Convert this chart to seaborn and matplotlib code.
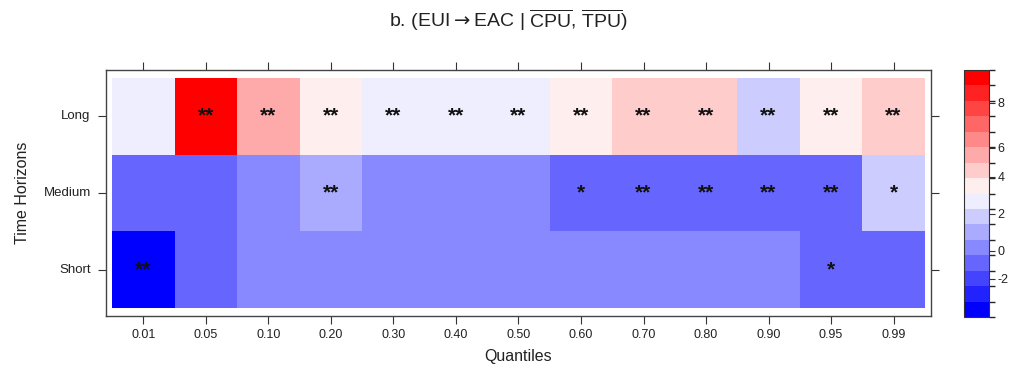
import numpy as np
import pandas as pd
import seaborn as sns
import matplotlib.pyplot as plt
from matplotlib.colors import LinearSegmentedColormap, ListedColormap, BoundaryNorm

# Daten
quantiles = ["0.01", "0.05", "0.10", "0.20", "0.30", "0.40", "0.50",
             "0.60", "0.70", "0.80", "0.90", "0.95", "0.99"]
horizons = ["Long", "Medium", "Short"]

long_vals = [2.7, 9.0, 5.5, 3.5, 2.7, 2.7, 2.7, 3.5, 4.4, 4.4, 1.8, 3.5, 4.4]
medium_vals = [-0.8, -0.8, 0.2, 1.0, 0.2, 0.2, 0.2, -0.8, -0.8, -0.8, -0.8, -0.8, 1.8]
short_vals = [-4.3, -0.8, 0.2, 0.2, 0.2, 0.2, 0.2, 0.2, 0.2, 0.2, 0.2, -0.8, -0.8]

long_sig = ["", "**", "**", "**", "**", "**", "**", "**", "**", "**", "**", "**", "**"]
medium_sig = ["", "", "", "**", "", "", "", "*", "**", "**", "**", "**", "*"]
short_sig = ["**", "", "", "", "", "", "", "", "", "", "", "*", ""]

# Farbstufen (ungleichmaessig wie im Original-Colorkey)
levels = [-4.9, -3.72, -2.57, -1.41, -0.25, 0.63, 1.43, 2.25, 3.09,
          3.91, 5.0, 6.05, 6.72, 7.4, 8.07, 8.74, 9.41]

values = pd.DataFrame([long_vals, medium_vals, short_vals], index=horizons, columns=quantiles)
sig = np.array([long_sig, medium_sig, short_sig])

sns.set_theme(style="white")
plt.rcParams['font.family'] = ['Liberation Sans', 'DejaVu Sans']
plt.rcParams['mathtext.fontset'] = 'custom'
plt.rcParams['mathtext.rm'] = 'Liberation Sans'
plt.rcParams['mathtext.sf'] = 'DejaVu Sans'
plt.rcParams['mathtext.fallback'] = 'stixsans'
plt.rcParams['axes.unicode_minus'] = False

ramp = LinearSegmentedColormap.from_list("bwr_ramp", ["blue", "white", "red"])
cmap = ListedColormap(ramp(np.linspace(0, 1, 16)))
norm = BoundaryNorm(levels, cmap.N)

fig = plt.figure(figsize=(10.11, 3.66), dpi=100)
ax = fig.add_axes([0.1048, 0.1366, 0.8161, 0.6721])
cax = fig.add_axes([0.9535, 0.1339, 0.0247, 0.6748])

sns.heatmap(values, ax=ax, cbar_ax=cax, cmap=cmap, norm=norm,
            annot=sig, fmt="",
            annot_kws={"fontsize": 15, "color": "#111111", "fontweight": "bold"},
            xticklabels=quantiles, yticklabels=horizons,
            cbar_kws={"ticks": [-2, 0, 2, 4, 6, 8]})

ax.set_xlim(-0.1, 13.1)
ax.set_ylim(3.1, -0.1)
for s in ax.spines.values():
    s.set_visible(True)
    s.set_color('#444444')
    s.set_linewidth(1)

ax.tick_params(axis='both', direction='out', length=6, width=0.8, color='#333333',
               labelcolor='#222222', top=True, right=True, bottom=True, left=True,
               labeltop=False, labelright=False)
ax.tick_params(axis='x', labelsize=9, pad=3, labelrotation=0)
ax.tick_params(axis='y', labelsize=9.5, pad=5, labelrotation=0)
ax.set_xlabel("Quantiles", fontsize=11.5, labelpad=6, color='#222222')
ax.set_ylabel("Time Horizons", fontsize=11.5, labelpad=10, color='#222222')

cbar = ax.collections[0].colorbar
cbar.outline.set_linewidth(0.8)
cbar.outline.set_edgecolor('#333333')
cax.tick_params(direction='out', length=4, width=0.8, color='#333333',
                labelcolor='#222222', labelsize=9, right=True, pad=2)

title = (r'b. (EUI$\mathsf{\rightarrow}$EAC | '
         r'$\overline{\mathrm{CPU}}$, $\overline{\mathrm{TPU}}$)')
fig.text(0.503, 1 - 20 / 366, title, ha='center', va='center', fontsize=14, color='#222222')

fig.savefig("out.png", dpi=100)
